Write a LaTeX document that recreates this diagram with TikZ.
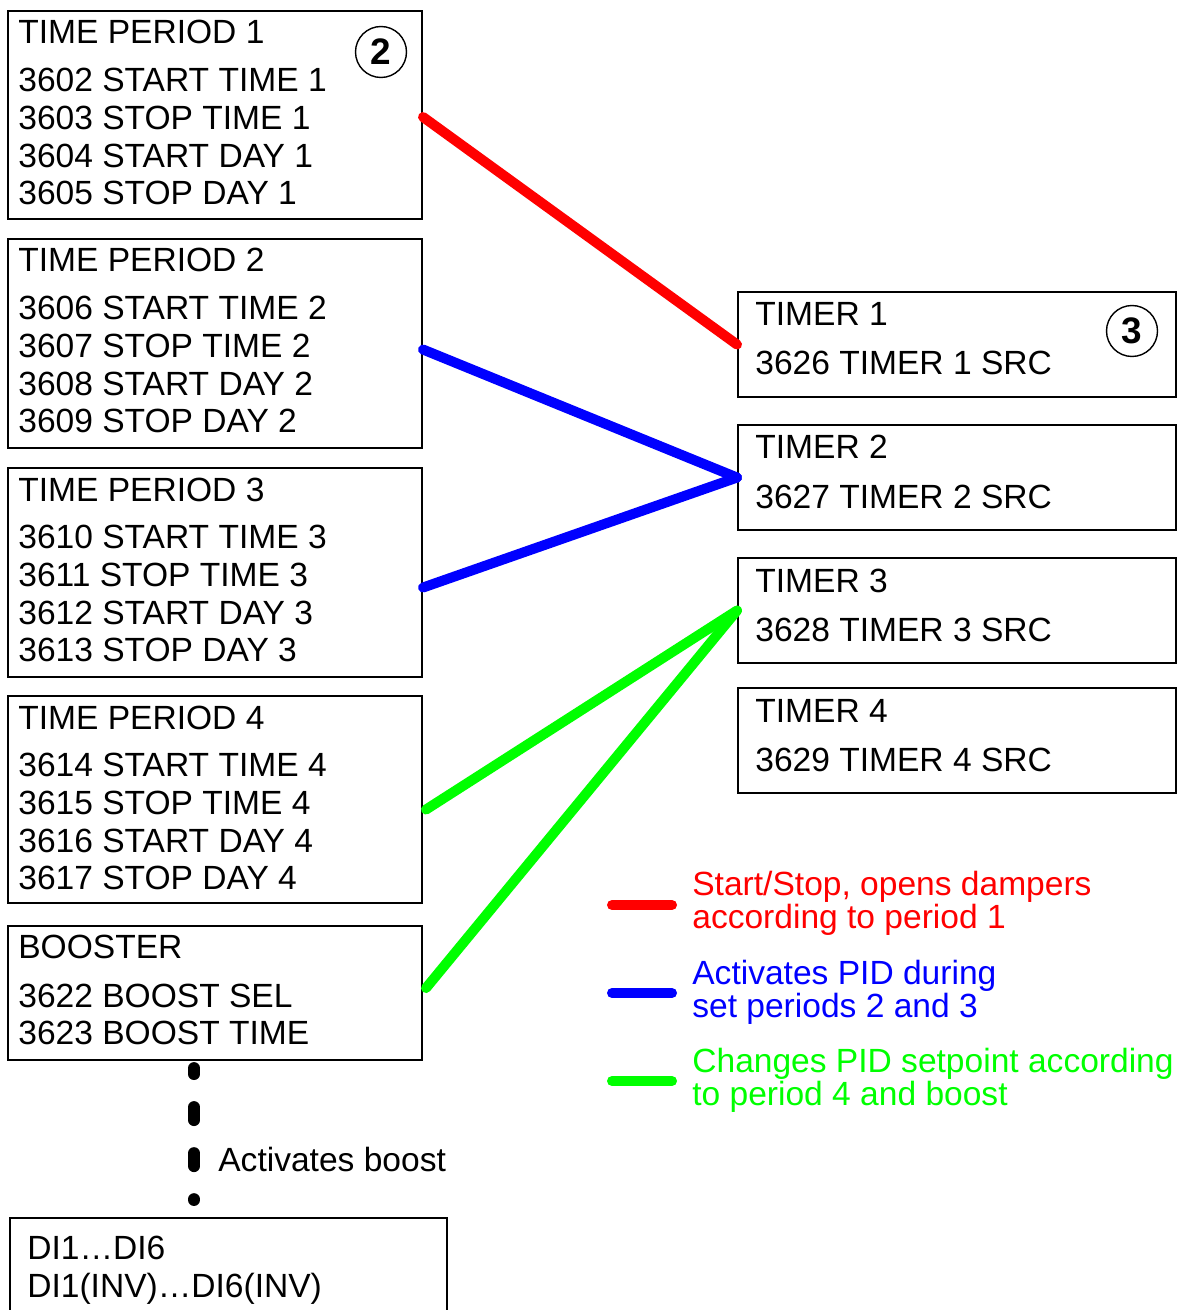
\documentclass[tikz,border=0pt]{standalone}
\usepackage{fontspec}
\setmainfont{Liberation Sans}
\usetikzlibrary{positioning,calc}
\definecolor{linkred}{RGB}{255,0,0}
\definecolor{linkblue}{RGB}{0,0,255}
\definecolor{linkgreen}{RGB}{0,255,0}

\begin{document}
\begin{tikzpicture}[x=0.02cm, y=-0.02cm,
    box/.style={rectangle, draw, line width=1.2pt, inner sep=0pt, anchor=north west},
    periodbox/.style={box, minimum width=8.28cm},
    timerbox/.style={box, minimum width=8.76cm, minimum height=2.1cm},
    txt/.style={anchor=base west, inner sep=0pt, font=\fontsize{19.1}{22}\selectfont},
    badge/.style={circle, draw, line width=0.8pt, minimum size=1.02cm, inner sep=0pt,
                  font=\fontsize{21}{24}\selectfont\bfseries},
    link/.style={line width=5.7pt, line cap=round},
    keyline/.style={line width=5.7pt, line cap=round}
]
    \useasboundingbox (0,0) rectangle (1183,1310);
    \clip (0,0) rectangle (1183,1310);

    % time periods
    \node[periodbox, minimum height=4.16cm] (tp1) at (7,10) {};
    \node[periodbox, minimum height=4.18cm] (tp2) at (7,238) {};
    \node[periodbox, minimum height=4.18cm] (tp3) at (7,467) {};
    \node[periodbox, minimum height=4.14cm] (tp4) at (7,695) {};
    \foreach \p in {1,...,4} {
        \node[txt] (tp\p-t) at ($(tp\p.north west)+(11,34)$) {TIME PERIOD \p};
        \foreach \what [count=\i] in {START TIME, STOP TIME, START DAY, STOP DAY} {
            \pgfmathtruncatemacro\num{3597+4*\p+\i}
            \node[txt] (tp\p-\i) at ($(tp\p.north west)+(11,44+37.7*\i)$) {\num\ \what\ \p};
        }
    }

    % booster
    \node[periodbox, minimum height=2.68cm] (boost) at (7,925) {};
    \node[txt] (boost-t) at ($(boost.north west)+(11,33)$) {BOOSTER};
    \node[txt] (boost-1) at ($(boost.north west)+(11,82)$) {3622 BOOST SEL};
    \node[txt] (boost-2) at ($(boost.north west)+(11,119)$) {3623 BOOST TIME};

    % timers
    \foreach \t/\top in {1/291, 2/424, 3/557, 4/687} {
        \pgfmathtruncatemacro\num{3625+\t}
        \node[timerbox] (timer\t) at (737,\top) {};
        \node[txt] (timer\t-t) at ($(timer\t.north west)+(18,35)$) {TIMER \t};
        \node[txt] (timer\t-1) at ($(timer\t.north west)+(18,84)$) {\num\ TIMER \t\ SRC};
    }

    \node[badge] (badge2) at (381,52) {2};
    \node[badge] (badge3) at (1132,331) {3};

    % digital inputs
    \node[box, minimum width=8.74cm, minimum height=2.3cm] (di) at (9,1217) {};
    \node[txt] (di-1) at ($(di.north west)+(18,42)$) {DI1…DI6};
    \node[txt] (di-2) at ($(di.north west)+(18,80)$) {DI1(INV)…DI6(INV)};

    \draw[line width=6.8pt, line cap=round, dash pattern=on 7.4pt off 18.8pt, dash phase=4pt]
        ($(boost.south west)+(187,7)$) -- ($(di.north west)+(185,-17)$);
    \node[txt] (boostnote) at (218,1171) {Activates boost};

    % links
    \draw[link, linkred] ($(tp1.east)+(0,2)$) -- (timer1.west);
    \draw[link, linkblue] ($(tp2.east)+(0,6)$) -- (timer2.west);
    \draw[link, linkblue] ($(tp3.east)+(0,15)$) -- (timer2.west);
    \draw[link, linkgreen] ($(tp4.east)+(3,10)$) -- (timer3.west);
    \draw[link, linkgreen] ($(boost.east)+(3,-5)$) -- (timer3.west);

    % legend
    \draw[keyline, linkred] (612,905) -- (672,905);
    \node[txt, text=linkred] (key1a) at (692,895) {Start/Stop, opens dampers};
    \node[txt, text=linkred] (key1b) at (692,928) {according to period 1};
    \draw[keyline, linkblue] (612,993) -- (672,993);
    \node[txt, text=linkblue] (key2a) at (692,984) {Activates PID during};
    \node[txt, text=linkblue] (key2b) at (692,1017) {set periods 2 and 3};
    \draw[keyline, linkgreen] (612,1081) -- (672,1081);
    \node[txt, text=linkgreen] (key3a) at (692,1072) {Changes PID setpoint according};
    \node[txt, text=linkgreen] (key3b) at (692,1105) {to period 4 and boost};
\end{tikzpicture}
\end{document}
